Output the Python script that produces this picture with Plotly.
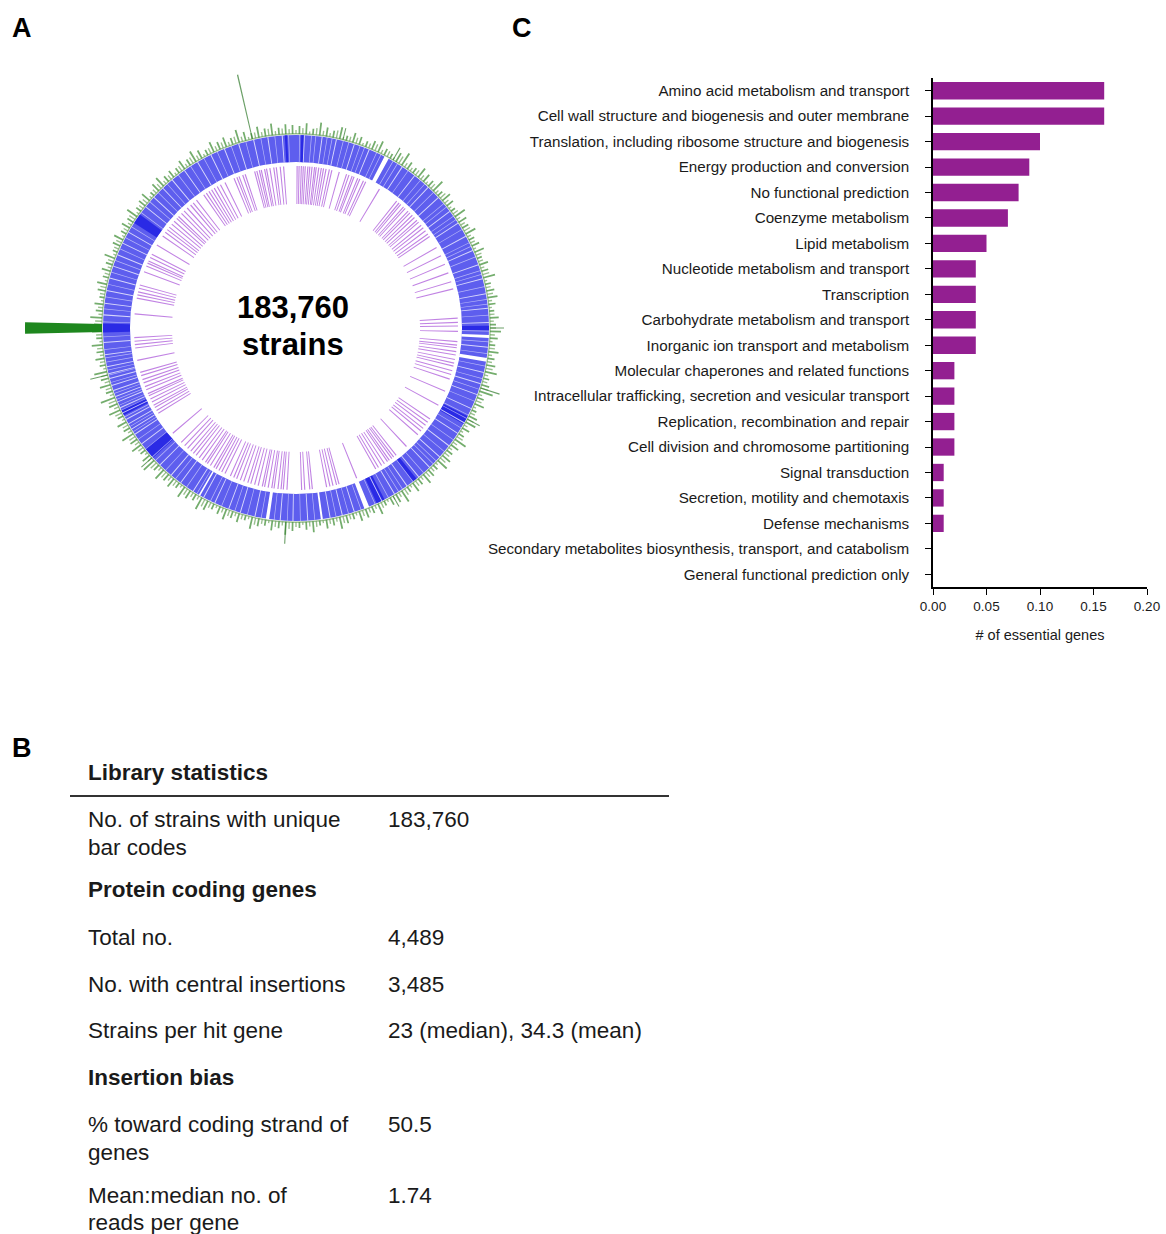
import plotly.graph_objects as go

FONT = "Liberation Sans, Arial, sans-serif"
INK = "#1a1a1a"
W, H = 1166, 1234

# ---------------- Panel A: genome map data (angles in degrees, clockwise from top) ----------------
ring_inner, ring_outer = 166, 193          # gene ring radii
ess_inner, ess_outer = 124, 162            # essential-gene track radii
ins_base = 194                             # insertion-density track base

# white breaks / thin stripes in the gene ring
gap_theta = [28.0, 92.5, 99.5, 158.5, 172.3, 188.5, 210.0]
gap_width = [1.4, 0.9, 1.1, 1.5, 0.6, 1.0, 0.5]
stripe_theta = [2.5, 7.8, 12.1, 17.6, 22.3, 33.4, 37.9, 43.2, 47.5, 52.8, 57.1, 61.6,
                66.3, 70.9, 75.2, 79.8, 84.1, 88.4, 95.7, 103.3, 106.8, 110.2, 114.7,
                119.4, 123.1, 127.6, 131.9, 136.2, 140.5, 144.9, 149.3, 153.6, 162.4,
                166.1, 169.8, 176.5, 180.9, 184.7, 192.3, 196.8, 200.4, 204.9, 208.6,
                212.2, 216.7, 220.3, 224.8, 233.1, 236.6, 238.4, 240.2, 241.7, 243.9,
                245.6, 247.5, 249.2, 251.1, 252.7, 254.8, 256.3, 258.4, 262.0, 265.7,
                273.9, 277.4, 281.2, 285.0, 288.7, 292.3, 296.1, 299.8, 308.9, 312.6,
                316.4, 320.1, 324.7, 329.3, 333.8, 338.2, 342.7, 347.3, 351.6, 355.9]
fine_stripe_theta = [1.1, 4.6, 5.9, 9.3, 10.8, 14.2, 15.9, 19.4, 20.8, 24.7, 26.1, 30.2,
                     31.7, 35.5, 40.1, 41.8, 45.4, 49.9, 51.2, 54.6, 55.9, 59.3, 63.8, 65.0,
                     68.4, 72.7, 73.9, 77.6, 81.5, 82.9, 86.2, 90.9, 94.1, 97.6, 101.4, 105.2,
                     108.5, 112.3, 116.8, 117.9, 121.2, 125.4, 129.8, 133.5, 134.7, 138.6,
                     142.7, 146.5, 147.9, 151.4, 155.8, 160.3, 164.2, 168.0, 174.4, 178.7,
                     182.6, 186.5, 190.4, 194.6, 198.5, 202.7, 206.3, 210.9, 214.5, 218.6,
                     222.5, 226.7, 228.1, 231.2, 234.8, 237.5, 239.3, 242.6, 244.8, 246.4,
                     248.3, 250.2, 253.6, 255.9, 257.4, 259.8, 261.1, 263.6, 267.4, 271.8,
                     275.7, 279.3, 283.1, 286.8, 290.5, 294.2, 297.9, 301.6, 306.7, 310.8,
                     314.5, 318.2, 322.4, 326.9, 331.5, 335.9, 340.4, 344.9, 349.5, 353.7,
                     357.8]
# dense (dark) gene blocks
dense_theta = [270.0, 304.5, 229.5, 244.0, 154.0, 118.5, 90.0, 2.0, 357.0, 142.0]
dense_width = [2.6, 3.0, 3.5, 1.8, 2.6, 2.6, 1.3, 0.9, 0.7, 1.3]

# essential genes
ess_theta = [
    337.5, 338.6, 339.4, 340.8, 341.7,
    345.2, 346.0, 346.9, 347.6, 348.8, 349.5, 350.7, 352.1, 353.0, 354.4, 355.6,
    0.4, 1.1, 1.9, 2.6, 3.3, 4.2, 4.9, 5.7, 6.6, 7.2, 8.1, 9.0, 9.8, 10.7, 11.9, 12.8,
    15.5, 18.2, 19.1, 20.3, 21.0, 22.4, 23.2, 24.6, 25.5,
    31.0, 38.4, 39.5, 40.3, 41.6, 42.4, 43.8, 44.7, 45.9, 47.0, 48.3, 49.2, 50.6,
    51.8, 53.1, 54.5, 55.6, 60.2, 63.5, 66.8, 70.1, 73.4, 76.0,
    86.5, 88.0, 89.3, 91.2,
    94.8, 96.1, 97.0, 98.4, 99.6, 101.2, 102.5, 103.6, 105.3, 106.7, 108.4,
    113.0, 118.5, 124.2, 125.6, 126.9, 128.3, 129.5, 131.2,
    137.0, 141.8, 142.9, 143.7, 144.8, 145.6, 146.9, 148.1, 149.4, 150.5, 158.0,
    164.6, 165.5, 166.8, 167.9, 169.1, 174.2, 175.1, 176.9, 178.0,
    183.2, 184.5, 185.3, 186.4, 187.8, 188.6, 189.9, 191.2, 192.0, 193.5, 194.8,
    196.2, 197.3, 198.8, 200.1, 201.5, 202.6, 203.9,
    206.0, 207.3, 208.4, 209.6, 210.5, 211.9, 213.2, 214.0, 215.4, 216.7, 218.1,
    219.3, 220.5, 222.0, 223.4, 225.1,
    229.5, 238.2, 239.4, 240.6, 241.5, 242.8, 244.0, 245.3, 246.1, 247.6, 248.8,
    250.2, 251.4, 252.9, 254.1, 258.5, 262.9, 264.1, 265.3, 266.6,
    275.0, 280.6, 281.8, 282.9, 284.2, 285.4,
    290.3, 292.5, 293.6, 294.4, 295.8, 297.1,
    300.8, 304.6, 306.2, 307.4, 308.5, 309.9, 311.2, 312.6, 313.5, 315.0, 316.3,
    317.8, 319.4, 320.6, 322.1,
    325.3, 326.4, 327.5, 328.6, 329.7, 330.9, 332.2, 334.0]

# insertion density, one value per 2-degree bin starting at the top
ins_height = [
    8, 11, 6, 13, 9, 7, 12, 5, 10, 8,
    6, 9, 12, 7, 5, 10, 14, 8, 6, 11,
    9, 7, 13, 6, 10, 8, 5, 12, 9, 7,
    11, 6, 8, 10, 5, 9, 7, 12, 6, 8,
    10, 7, 5, 9, 6, 11, 8, 6, 10, 7,
    9, 12, 6, 8, 14, 7, 10, 5, 9, 11,
    8, 6, 13, 9, 7, 10, 12, 6, 8, 11,
    7, 10, 6, 13, 9, 8, 5, 11, 7, 9,
    10, 6, 8, 12, 7, 9, 5, 11, 8, 6,
    9, 13, 7, 10, 6, 8, 12, 5, 9, 7,
    11, 8, 6, 10, 13, 7, 9, 12, 6, 10,
    8, 12, 7, 14, 9, 6, 11, 8, 13, 7,
    10, 6, 12, 9, 15, 7, 11, 8, 13, 6,
    9, 7, 11, 6, 10, 8, 12, 7, 9, 5,
    8, 10, 6, 9, 7, 11, 5, 8, 10, 6,
    9, 7, 12, 6, 8, 10, 5, 9, 11, 7,
    8, 6, 10, 7, 12, 9, 6, 11, 8, 10,
    7, 13, 9, 6, 11, 8, 12, 7, 10, 9]
ins_theta = [2 * i + 1 for i in range(len(ins_height))]
# same track, bins offset by one degree
ins_height_b = [
    4, 6, 3, 7, 5, 4, 8, 3, 5, 6,
    3, 5, 7, 4, 6, 3, 8, 5, 4, 6,
    5, 3, 6, 4, 7, 5, 3, 6, 4, 5,
    7, 4, 5, 3, 6, 5, 4, 7, 3, 5,
    6, 4, 3, 5, 4, 6, 5, 3, 6, 4,
    5, 7, 4, 5, 8, 4, 6, 3, 5, 7,
    4, 3, 7, 5, 4, 6, 7, 3, 5, 6,
    4, 6, 3, 7, 5, 4, 3, 6, 4, 5,
    6, 3, 5, 7, 4, 5, 3, 6, 5, 3,
    5, 7, 4, 6, 3, 5, 7, 3, 5, 4,
    6, 5, 3, 6, 8, 4, 5, 7, 3, 6,
    5, 7, 4, 8, 5, 3, 6, 5, 7, 4,
    6, 3, 7, 5, 8, 4, 6, 5, 7, 3,
    5, 4, 6, 3, 6, 5, 7, 4, 5, 3,
    5, 6, 3, 5, 4, 6, 3, 5, 6, 3,
    5, 4, 7, 3, 5, 6, 3, 5, 6, 4,
    5, 3, 6, 4, 7, 5, 3, 6, 5, 6,
    4, 7, 5, 3, 6, 5, 7, 4, 6, 5]
ins_theta_b = [2 * i for i in range(len(ins_height_b))]
spike_theta = [347.0, 90.0, 108.0, 118.0, 183.0, 256.0, 228.0, 150.0, 14.0, 30.0]
spike_len = [66, 14, 20, 14, 22, 18, 14, 12, 12, 14]
hot_theta, hot_len = 270.0, 77

# ---------------- Panel C: essential genes per COG category ----------------
categories = [
    "Amino acid metabolism and transport",
    "Cell wall structure and biogenesis and outer membrane",
    "Translation, including ribosome structure and biogenesis",
    "Energy production and conversion",
    "No functional prediction",
    "Coenzyme metabolism",
    "Lipid metabolism",
    "Nucleotide metabolism and transport",
    "Transcription",
    "Carbohydrate metabolism and transport",
    "Inorganic ion transport and metabolism",
    "Molecular chaperones and related functions",
    "Intracellular trafficking, secretion and vesicular transport",
    "Replication, recombination and repair",
    "Cell division and chromosome partitioning",
    "Signal transduction",
    "Secretion, motility and chemotaxis",
    "Defense mechanisms",
    "Secondary metabolites biosynthesis, transport, and catabolism",
    "General functional prediction only",
]
essential = [0.16, 0.16, 0.10, 0.09, 0.08, 0.07, 0.05, 0.04, 0.04, 0.04, 0.04,
             0.02, 0.02, 0.02, 0.02, 0.01, 0.01, 0.01, 0.0, 0.0]
x_ticks = [0.00, 0.05, 0.10, 0.15, 0.20]

# ---------------- Panel B: library statistics table ----------------
table_labels = [
    ["Library statistics"],
    ["No. of strains with unique", "bar codes"],
    ["Protein coding genes"],
    ["Total no."],
    ["No. with central insertions"],
    ["Strains per hit gene"],
    ["Insertion bias"],
    ["% toward coding strand of", "genes"],
    ["Mean:median no. of", "reads per gene"],
]
table_values = ["", "183,760", "", "4,489", "3,485", "23 (median), 34.3 (mean)", "", "50.5", "1.74"]
table_bold = [True, False, True, False, False, False, True, False, False]
centre_lines = ["183,760", "strains"]

fig = go.Figure()


def ring(theta, length, base, width, color):
    """Radial strokes on the genome map (bars anchored at `base`)."""
    n = len(theta)
    fig.add_trace(go.Barpolar(
        theta=theta, r=length if isinstance(length, list) else [length] * n,
        base=base if isinstance(base, list) else [base] * n,
        width=width if isinstance(width, list) else [width] * n,
        marker=dict(color=color, line=dict(width=0)),
        subplot="polar", showlegend=False, hoverinfo="skip"))


# ---- genome map ----
ring([0], ring_outer - ring_inner, ring_inner, 360, "rgb(94,94,238)")
ring(dense_theta, ring_outer - ring_inner, ring_inner, dense_width, "rgba(25,25,225,0.75)")
ring(fine_stripe_theta, ring_outer - ring_inner, ring_inner, 0.22, "rgba(255,255,255,0.55)")
ring(stripe_theta, ring_outer - ring_inner, ring_inner, 0.3, "rgba(255,255,255,0.75)")
ring(gap_theta, ring_outer - ring_inner + 1, ring_inner - 0.5, gap_width, "white")
ring(ess_theta, ess_outer - ess_inner, ess_inner, 0.42, "rgba(178,100,220,0.8)")
ring([0], 1.3, ring_outer + 0.5, 360, "rgba(150,185,140,0.9)")
ring(ins_theta_b, ins_height_b, ins_base, 0.4, "rgba(110,165,95,0.7)")
ring(ins_theta, ins_height, ins_base, 0.5, "rgba(70,145,60,0.75)")
ring(spike_theta, spike_len, ins_base, 0.3, "rgba(60,130,55,0.75)")
ring([hot_theta], hot_len, ins_base, 2.4, "rgb(30,135,30)")

# ---- essential genes bar chart ----
fig.add_trace(go.Bar(x=essential, y=categories, orientation="h", width=0.68,
                     marker=dict(color="#931f91", line=dict(width=0)),
                     xaxis="x", yaxis="y", showlegend=False))

cx, cy, rmax = 296, 328, 278
fig.update_layout(
    width=W, height=H, autosize=False, margin=dict(l=0, r=0, t=0, b=0, pad=0),
    paper_bgcolor="white", plot_bgcolor="white",
    font=dict(family=FONT, color=INK),
    polar=dict(
        domain=dict(x=[(cx - rmax) / W, (cx + rmax) / W],
                    y=[(H - cy - rmax) / H, (H - cy + rmax) / H]),
        bgcolor="rgba(0,0,0,0)", barmode="overlay", hole=0,
        radialaxis=dict(visible=False, range=[0, rmax]),
        angularaxis=dict(visible=False, direction="clockwise", rotation=90,
                         showgrid=False, showline=False, ticks=""),
    ),
    xaxis=dict(domain=[933 / W, 1147 / W], range=[0, 0.2], tickvals=x_ticks,
               tickformat=".2f", showline=True, linecolor="black", linewidth=1.6,
               ticks="outside", ticklen=6, tickwidth=1.4, tickcolor="black",
               showgrid=False, zeroline=False, anchor="y", automargin=False,
               tickfont=dict(size=13.5, color=INK),
               title=dict(text="# of essential genes", font=dict(size=14.5, color=INK), standoff=17)),
    yaxis=dict(domain=[(H - 587) / H, (H - 78) / H], autorange="reversed",
               showline=True, linecolor="black", linewidth=1.6,
               ticks="outside", ticklen=6, tickwidth=1.4, tickcolor="black",
               showgrid=False, zeroline=False, anchor="x", automargin=False,
               ticklabelstandoff=13, tickfont=dict(size=15.2, color=INK)),
)

# centre label of the genome map
for txt, ty in zip(centre_lines, [308, 344]):
    fig.add_annotation(x=293 / W, y=1 - ty / H, xref="paper", yref="paper",
                       xanchor="center", yanchor="middle",
                       text=f"<b>{txt}</b>", showarrow=False,
                       font=dict(size=31, family=FONT, color="black"))

# panel letters
for letter, lx, ly in [("A", 22, 28), ("C", 522, 28), ("B", 22, 748)]:
    fig.add_annotation(x=lx / W, y=1 - ly / H, xref="paper", yref="paper",
                       text=f"<b>{letter}</b>", showarrow=False, xanchor="center", yanchor="middle",
                       font=dict(size=27, family=FONT, color="black"))

# library statistics table
row_y = [[772], [819, 847], [890], [937], [984], [1030], [1077], [1124, 1152], [1195, 1222]]
label_x, value_x = 86, 386
for lines, val, bold, ys in zip(table_labels, table_values, table_bold, row_y):
    for txt, yy in zip(lines, ys):
        fig.add_annotation(x=label_x / W, y=1 - yy / H, xref="paper", yref="paper",
                           text=f"<b>{txt}</b>" if bold else txt, showarrow=False,
                           xanchor="left", yanchor="middle",
                           font=dict(size=22.5, family=FONT, color=INK))
    if val:
        fig.add_annotation(x=value_x / W, y=1 - ys[0] / H, xref="paper", yref="paper",
                           text=val, showarrow=False, xanchor="left", yanchor="middle",
                           font=dict(size=22.5, family=FONT, color=INK))
fig.add_shape(type="line", xref="paper", yref="paper", x0=70 / W, x1=669 / W,
              y0=1 - 796 / H, y1=1 - 796 / H, line=dict(color="#333333", width=2))

fig.write_html("out.html")
